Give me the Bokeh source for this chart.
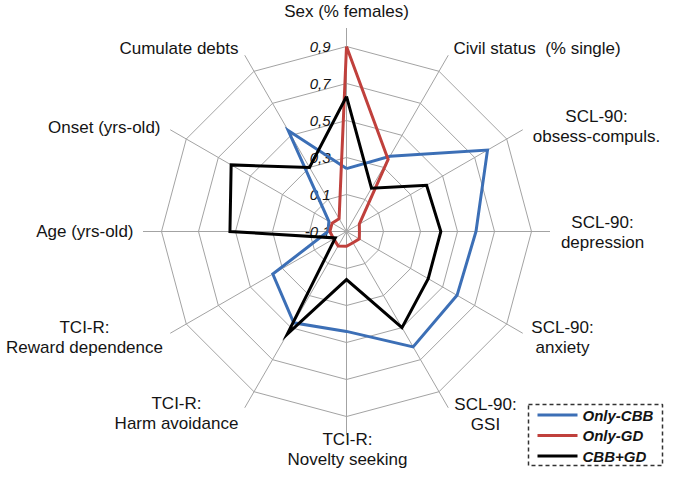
import numpy as np
from bokeh.plotting import figure
from bokeh.models import Range1d
from bokeh.core.properties import value
from bokeh.embed import file_html
from bokeh.resources import INLINE

# ---------------- data ----------------
categories = [
    "Sex (% females)",
    "Civil status  (% single)",
    "SCL-90:\nobsess-compuls.",
    "SCL-90:\ndepression",
    "SCL-90:\nanxiety",
    "SCL-90:\nGSI",
    "TCI-R:\nNovelty seeking",
    "TCI-R:\nHarm avoidance",
    "TCI-R:\nReward dependence",
    "Age (yrs-old)",
    "Onset (yrs-old)",
    "Cumulate debts",
]
only_cbb = [0.24, 0.37, 0.78, 0.60, 0.59, 0.62, 0.44, 0.47, 0.36, 0.00, 0.01, 0.53]
only_gd = [0.90, 0.35, -0.02, -0.03, -0.02, -0.03, -0.02, -0.01, -0.02, -0.01, -0.01, -0.02]
cbb_gd = [0.63, 0.17, 0.40, 0.41, 0.41, 0.50, 0.16, 0.54, -0.03, 0.53, 0.62, 0.30]
series_names = ["Only-CBB", "Only-GD", "CBB+GD"]
tick_values = [-0.1, 0.1, 0.3, 0.5, 0.7, 0.9]
tick_labels = ["-0,1", "0,1", "0,3", "0,5", "0,7", "0,9"]

# ---------------- layout / style ----------------
W, H = 664, 468
CX, CY = 346, 231               # centre in canvas pixels
S = 185.0                       # pixels per value unit
R_MIN = -0.1
SPOKE_END = 1.0
colors = ["#3c6fb6", "#c0403c", "#000000"]
GRID = "#a3a3a3"
TXT = "#141414"
FONT = value("Liberation Sans")

# label anchor positions (canvas pixels) and alignment
label_pos = [
    (346, 11, "center"), (453, 48, "left"), (596, 126, "center"),
    (602, 231.5, "center"), (562, 337, "center"), (485, 414, "center"),
    (347, 449, "center"), (176, 413, "center"), (84, 336.5, "center"),
    (133, 231, "right"), (160, 127, "right"), (238, 48, "right"),
]
legend_box = (528, 404, 662, 465)   # left, top, right, bottom


def to_data(X, Y):
    return (X - CX) / S, (CY - Y) / S


p = figure(width=W, height=H, output_backend="svg", toolbar_location=None,
           x_range=Range1d(-CX / S, (W - CX) / S),
           y_range=Range1d(-(H - CY) / S, CY / S),
           min_border=0, x_axis_location=None, y_axis_location=None)
p.grid.visible = False
p.outline_line_color = None
p.background_fill_color = "white"
p.border_fill_color = "white"

n = len(categories)
theta = np.pi / 2 - np.arange(n) * 2 * np.pi / n

# rings
for tv in tick_values[1:]:
    r = tv - R_MIN
    xs = list(r * np.cos(theta)) + [r * np.cos(theta[0])]
    ys = list(r * np.sin(theta)) + [r * np.sin(theta[0])]
    p.line(xs, ys, line_color=GRID, line_width=1)

# spokes
re = SPOKE_END - R_MIN
p.segment(x0=[0] * n, y0=[0] * n, x1=list(re * np.cos(theta)), y1=list(re * np.sin(theta)),
          line_color=GRID, line_width=1)

# tick labels along the top spoke
tx = [(-16) / S] * len(tick_values)
ty = [tv - R_MIN for tv in tick_values]
p.text(x=tx, y=ty, text=tick_labels, text_font=FONT, text_font_size="15px",
       text_font_style="italic", text_align="right", text_baseline="middle",
       text_color=TXT)

# series
for vals, col in zip([only_cbb, only_gd, cbb_gd], colors):
    r = np.array(vals) - R_MIN
    xs = list(r * np.cos(theta)) + [r[0] * np.cos(theta[0])]
    ys = list(r * np.sin(theta)) + [r[0] * np.sin(theta[0])]
    p.line(xs, ys, line_color=col, line_width=3, line_join="miter")

# category labels
LH = 20.0
for cat, (X, Y, al) in zip(categories, label_pos):
    lines = cat.replace("  ", " \u00a0").split("\n")
    k = len(lines)
    for i, ln in enumerate(lines):
        yy = Y + (i - (k - 1) / 2) * LH
        dx, dy = to_data(X, yy)
        p.text(x=[dx], y=[dy], text=[ln], text_font=FONT, text_font_size="17px",
               text_align=al, text_baseline="middle", text_color=TXT)

# legend
L0, T0, R0, B0 = legend_box
l, t = to_data(L0, T0)
r_, b = to_data(R0, B0)
p.quad(left=[l], right=[r_], top=[t], bottom=[b], fill_color=None,
       line_color="#333333", line_width=1.5, line_dash="4 3")
for i, (name, col) in enumerate(zip(series_names, colors)):
    Y = T0 + 10.5 + i * 20.5
    x0, y0 = to_data(L0 + 9, Y)
    x1, _ = to_data(L0 + 49, Y)
    p.segment(x0=[x0], y0=[y0], x1=[x1], y1=[y0], line_color=col, line_width=3)
    xt, _ = to_data(L0 + 54, Y)
    p.text(x=[xt], y=[y0], text=[name], text_font=FONT, text_font_size="15px",
           text_font_style="bold italic", text_align="left", text_baseline="middle",
           text_color=TXT)

open("out.html", "w").write(file_html(p, INLINE))
